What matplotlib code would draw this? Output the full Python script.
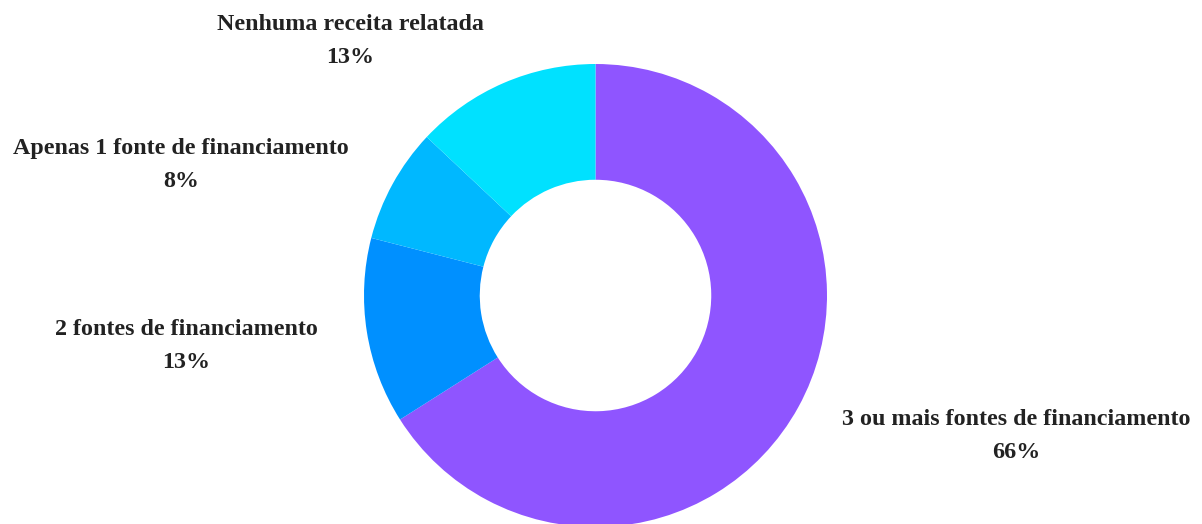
import matplotlib
matplotlib.use('Agg')

import matplotlib.pyplot as plt

# funding sources, clockwise from 12 o'clock
labels = ['3 ou mais fontes de financiamento', '2 fontes de financiamento',
          'Apenas 1 fonte de financiamento', 'Nenhuma receita relatada']
shares = [66, 13, 8, 13]
colors = ['#8f55ff', '#0090ff', '#00b8ff', '#00e1ff']

# label block centres in pixels (x from left, y from top)
label_px = [(1016, 436), (186, 346), (181, 165), (350, 41)]

W, H = 1202, 524
cx, cy, R = 595.5, 295.5, 231.5   # donut centre and outer radius, px

fig = plt.figure(figsize=(W / 100, H / 100), dpi=100)
ax = fig.add_axes([0, 0, 1, 1])

ax.pie(shares, colors=colors, startangle=90, counterclock=False, radius=1,
       wedgeprops=dict(width=0.5, linewidth=0))

ax.set_xlim(-cx / R, (W - cx) / R)
ax.set_ylim(-(H - cy) / R, cy / R)
ax.set_aspect('equal')
ax.axis('off')

for lab, val, (px, py) in zip(labels, shares, label_px):
    ax.text((px - cx) / R, (cy - py) / R, '%s\n%d%%' % (lab, val),
            ha='center', va='center', multialignment='center',
            fontsize=17.3, fontweight='bold', family='Liberation Serif',
            color='#222222', linespacing=1.75)

fig.savefig('out.png', dpi=100)
plt.close('all')
